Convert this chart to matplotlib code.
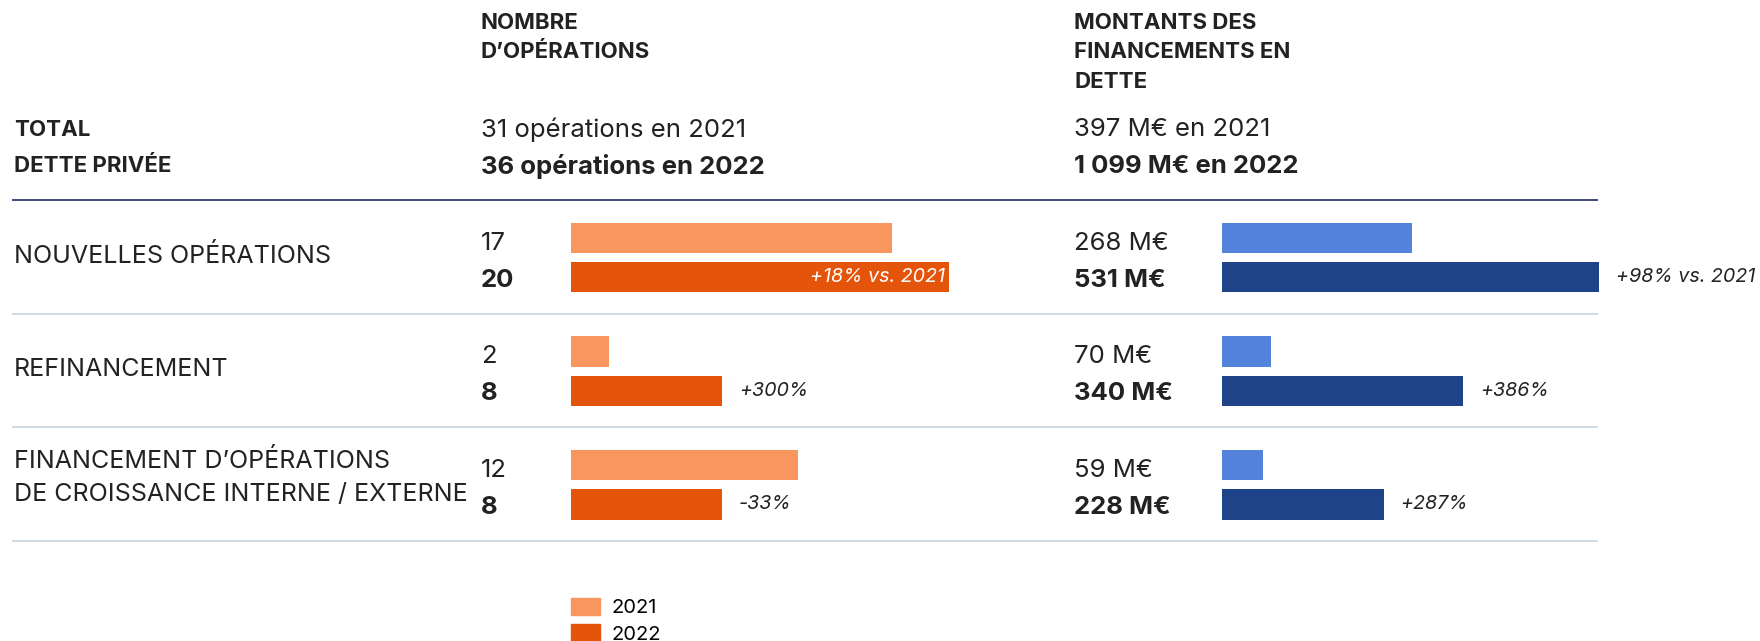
'''
    Dette privée : nombre d'opérations et montants 2021 / 2022
'''

from matplotlib import pyplot as plt
from matplotlib.patches import Patch

plt.rcParams['font.family'] = ['Inter', 'DejaVu Sans']

# Data
#----------------------------------------------------
categories = ["NOUVELLES OPÉRATIONS",
              "REFINANCEMENT",
              "FINANCEMENT D’OPÉRATIONS\nDE CROISSANCE INTERNE / EXTERNE"]
ops_2021 = [17, 2, 12]
ops_2022 = [20, 8, 8]
amt_2021 = [268, 70, 59]
amt_2022 = [531, 340, 228]
ops_change = ["+18% vs. 2021", "+300%", "-33%"]
amt_change = ["+98% vs. 2021", "+386%", "+287%"]
years = ["2021", "2022"]

ops_header = ["NOMBRE", "D’OPÉRATIONS"]
amt_header = ["MONTANTS DES", "FINANCEMENTS EN", "DETTE"]
total_label = ["TOTAL", "DETTE PRIVÉE"]
ops_total = ["31 opérations en 2021", "36 opérations en 2022"]
amt_total = ["397 M€ en 2021", "1 099 M€ en 2022"]

ORANGE = ['#F9965F', '#E4540A']
BLUE = ['#5483DB', '#1F4389']
TXT = '#222222'

W, H = 1760, 641


def px_axes(fig, x0, x1, y0, y1):
    ''' axes from pixel box (y from top) '''
    return fig.add_axes([x0 / W, 1 - y1 / H, (x1 - x0) / W, (y1 - y0) / H])


def main():
    fig = plt.figure(figsize=(W / 100, H / 100), dpi=100)

    base = px_axes(fig, 0, W, 0, H)
    base.set_xlim(0, W)
    base.set_ylim(H, 0)
    base.set_axis_off()

    # Header
    for i, t in enumerate(ops_header):
        base.text(481, 23 + 29 * i, t, fontsize=16, fontweight='bold',
                  color=TXT, va='center')
    for i, t in enumerate(amt_header):
        base.text(1074, 23 + 29.5 * i, t, fontsize=16, fontweight='bold',
                  color=TXT, va='center')
    for i, (a, b, c) in enumerate(zip(total_label, ops_total, amt_total)):
        y = 130 + 36.5 * i
        base.text(14, y, a, fontsize=16, fontweight='bold', color=TXT, va='center')
        w = 'bold' if i == 1 else 'normal'
        base.text(481, y, b, fontsize=18.5, fontweight=w, color=TXT, va='center')
        base.text(1074, y, c, fontsize=18.5, fontweight=w, color=TXT, va='center')

    # Separators
    base.plot([12, 1598], [200, 200], color='#232B66', lw=1.2, solid_capstyle='butt')
    for k in range(1, 4):
        yk = 200 + 113.6 * k
        base.plot([12, 1598], [yk, yk], color='#C6D6E0', lw=1.2, solid_capstyle='butt')

    # Row labels
    for i, cat in enumerate(categories):
        lines = cat.split('\n')
        yc = 200 + 113.6 * i + 56
        if len(lines) == 1:
            base.text(14, yc, lines[0], fontsize=18, color=TXT, va='center')
        else:
            for j, ln in enumerate(lines):
                base.text(14, yc - 22 + 33.5 * j, ln, fontsize=18, color=TXT, va='center')

    # Bar panels
    panels = [
        (571, 949, ops_2021, ops_2022, ops_change, ORANGE, 481, lambda v: f"{v}"),
        (1221.5, 1599, amt_2021, amt_2022, amt_change, BLUE, 1074, lambda v: f"{v} M€"),
    ]
    off = [0.335, 0.68]
    bh = 0.268
    for x0, x1, v21, v22, chg, cols, xlab, fmt in panels:
        ax = px_axes(fig, x0, x1, 200, 200 + 113.6 * 3)
        ax.set_xlim(0, max(v22))
        ax.set_ylim(3, 0)
        ax.set_axis_off()
        for i in range(len(categories)):
            for j, vals in enumerate([v21, v22]):
                ax.barh(i + off[j], vals[i], height=bh, color=cols[j], clip_on=False)
                yb = 200 + 113.6 * (i + off[j]) + (5 if j == 0 else 3)
                base.text(xlab, yb, fmt(vals[i]), fontsize=18.5, color=TXT,
                          fontweight='bold' if j == 1 else 'normal', va='center')
            if cols is ORANGE and i == 0:
                ax.annotate(chg[i], (v22[i], i + off[1]), xytext=(-3, 0),
                            textcoords='offset points', ha='right', va='center',
                            fontsize=14.2, fontstyle='italic', color='white')
            else:
                ax.annotate(chg[i], (v22[i], i + off[1]), xytext=(12, 0),
                            textcoords='offset points', ha='left', va='center',
                            fontsize=14.2, fontstyle='italic', color=TXT,
                            annotation_clip=False)

    # Legend
    handles = [Patch(color=c, label=y) for c, y in zip(ORANGE, years)]
    fig.legend(handles=handles, loc='upper left',
               bbox_to_anchor=(563 / W, 1 - 590 / H), frameon=False,
               fontsize=14.5, handlelength=1.45, handleheight=0.9,
               handletextpad=0.55, labelspacing=0.35, borderaxespad=0)

    fig.savefig('out.png', dpi=100)
    plt.close(fig)


if __name__ == '__main__': main()
